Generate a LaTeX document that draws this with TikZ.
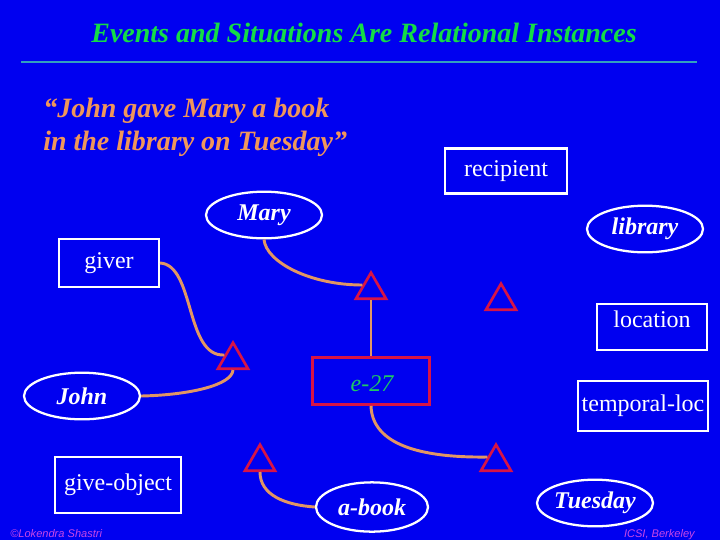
\documentclass[tikz,border=0pt]{standalone}
\usepackage{fontspec}
\setmainfont{Liberation Serif}
\newfontfamily\footfont{Liberation Sans}
\usetikzlibrary{shapes.geometric}
\definecolor{bgblue}{RGB}{0,0,240}
\definecolor{titlegreen}{RGB}{20,220,70}
\definecolor{rulecol}{RGB}{51,160,190}
\definecolor{quoteor}{RGB}{240,150,90}
\definecolor{conncol}{RGB}{225,150,100}
\definecolor{trired}{RGB}{215,20,70}
\definecolor{egreen}{RGB}{30,200,100}
\definecolor{footcol}{RGB}{200,70,230}
\begin{document}
\begin{tikzpicture}[x=0.75pt,y=-0.75pt,
  box/.style={draw=white, line width=1.6pt, inner sep=0pt, text=white, font=\fontsize{18}{20}\selectfont},
  ell/.style={ellipse, draw=white, line width=1.7pt, inner sep=0pt, text=white,
    minimum width=87pt, minimum height=35pt, font=\fontsize{18}{20}\selectfont\bfseries\itshape},
  tri/.style={regular polygon, regular polygon sides=3, draw=trired, line width=2pt,
    minimum size=26pt, inner sep=0pt},
  conn/.style={draw=conncol, line width=2.2pt},
  bigtxt/.style={font=\fontsize{21}{24}\selectfont\bfseries\itshape},
  foot/.style={text=footcol, font=\footfont\itshape\fontsize{8.3}{10}\selectfont}
]
\fill[bgblue] (0,0) rectangle (720,540);
\useasboundingbox (0,0) rectangle (720,540);

% title and rule
\node[bigtxt, text=titlegreen, anchor=base, inner sep=0pt] (title) at (364,42) {Events and Situations Are Relational Instances};
\coordinate (ruleL) at (21,62);
\coordinate (ruleR) at (697,62);
\draw[rulecol, line width=2.2pt] (ruleL) -- (ruleR);

% quote
\node[bigtxt, text=quoteor, anchor=base west, inner sep=0pt] (quote1) at (43,117.5) {“John gave Mary a book};
\node[bigtxt, text=quoteor, anchor=base west, inner sep=0pt] (quote2) at (43,150) {in the library on Tuesday”};

% boxes
\node[box, minimum width=91.5pt, minimum height=33.75pt] (recipient) at (506,171) {recipient};
\node[box, minimum width=75pt, minimum height=36pt] (giver) at (109,263) {giver};
\node[box, minimum width=83pt, minimum height=35pt] (location) at (652,327) {};
\node[text=white, font=\fontsize{18}{20}\selectfont, inner sep=0pt] (locationtext) at (652,319) {location};
\node[box, minimum width=97.5pt, minimum height=37pt] (temporal) at (643,406) {temporal-loc};
\node[box, minimum width=95pt, minimum height=42pt] (giveobject) at (118,485) {give-object};
\node[draw=trired, line width=2.2pt, minimum width=88pt, minimum height=35pt, inner sep=0pt,
  text=egreen, font=\fontsize{18}{20}\selectfont\itshape] (e27) at (371,381) {};
\node[text=egreen, font=\fontsize{18}{20}\selectfont\itshape, inner sep=0pt] (e27text) at (372,384) {e-27};

% ellipses
\node[ell] (mary) at (264,215) {Mary};
\node[ell] (library) at (645,229) {library};
\node[ell] (john) at (82,396) {John};
\node[ell, minimum width=84pt, minimum height=37pt] (abook) at (372,507) {a-book};
\node[ell] (tuesday) at (595,503) {Tuesday};

% triangles
\node[tri] (t1) at (371,290) {};
\node[tri] (t2) at (501,301) {};
\node[tri] (t3) at (233,360) {};
\node[tri] (t4) at (260,462) {};
\node[tri] (t5) at (496,462) {};

% connectors
\draw[conn] (mary.south) .. controls (266,262) and (310,285) .. (t1.side 1);
\draw[conn] (giver.east) .. controls (195,265) and (185,357) .. (t3.side 1);
\draw[conn] (john.east) .. controls (190,395) and (232,385) .. (t3.side 2);
\draw[conn] (t1.side 2) -- (e27.north);
\draw[conn] (e27.south) .. controls (372,440) and (410,458) .. (t5.side 1);
\draw[conn] (t4.side 2) .. controls (260,495) and (285,505) .. (abook.west);

% footers
\node[foot, anchor=base west, inner sep=0pt] (footL) at (10,537) {©Lokendra Shastri};
\node[foot, anchor=base east, inner sep=0pt] (footR) at (695,537) {ICSI, Berkeley};
\end{tikzpicture}
\end{document}
